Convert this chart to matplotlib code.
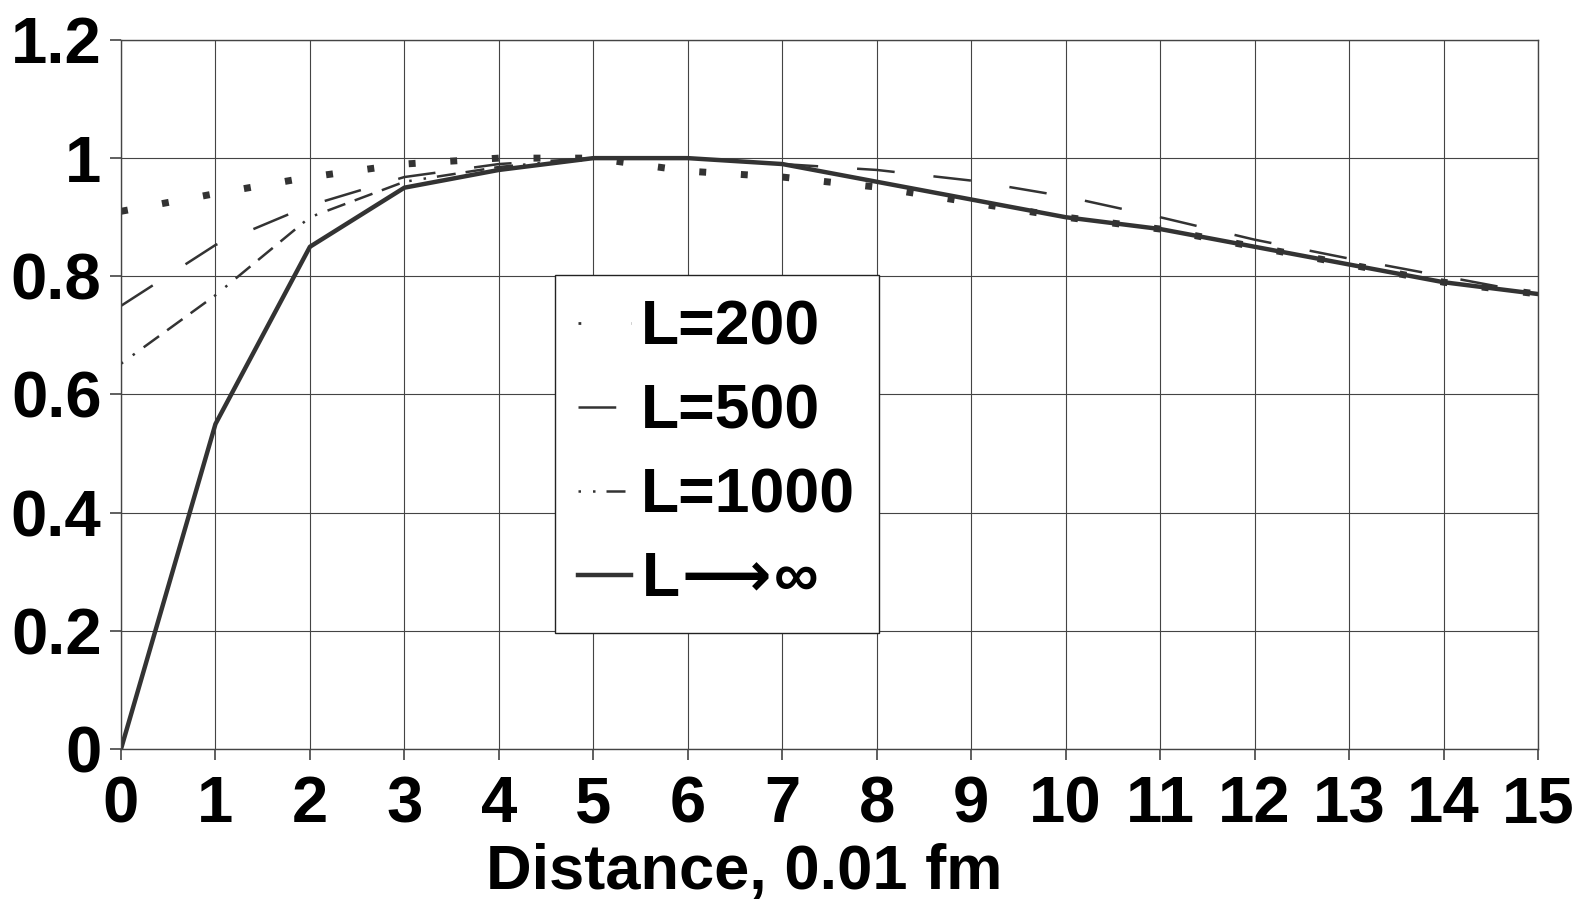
import numpy as np
import matplotlib
matplotlib.use('Agg')
import matplotlib.pyplot as plt

plt.rcParams['font.family'] = ['Liberation Sans', 'DejaVu Sans']
plt.rcParams['font.weight'] = 'bold'

# distance, 0.01 fm
dist = np.arange(16)
# values
l200 = [0.91, 0.94, 0.968, 0.99, 1.0, 1.0, 0.978, 0.968, 0.951, 0.925,
        0.90, 0.88, 0.85, 0.82, 0.79, 0.77]
l500 = [0.75, 0.853, 0.92, 0.968, 0.99, 1.0, 1.0, 0.99, 0.98, 0.962,
        0.935, 0.90, 0.862, 0.83, 0.80, 0.77]
l1000 = [0.652, 0.768, 0.90, 0.96, 0.985, 1.0, 1.0, 0.99, 0.96, 0.93,
         0.90, 0.88, 0.85, 0.82, 0.79, 0.77]
linf = [0.0, 0.55, 0.85, 0.95, 0.98, 1.0, 1.0, 0.99, 0.96, 0.93,
        0.90, 0.88, 0.85, 0.82, 0.79, 0.77]
labels = ['L=200', 'L=500', 'L=1000', 'L$\\!\\longrightarrow\\!$\u221e']
yticks = [0, 0.2, 0.4, 0.6, 0.8, 1.0, 1.2]
ytick_labels = ['0', '0.2', '0.4', '0.6', '0.8', '1', '1.2']

col = '#333333'
fig = plt.figure(figsize=(15.9, 9.0), dpi=100)
ax = fig.add_axes([0.0761, 0.1678, 0.8912, 0.7878])

ax.plot(dist, l200, color=col, lw=5.0, linestyle=(0, (1, 5)), label=labels[0])
ax.plot(dist, l500, color=col, lw=1.8, linestyle=(0, (15.1, 15.6)), label=labels[1])
ax.plot(dist, l1000, color=col, lw=1.8,
        linestyle=(0, (1, 4.8, 1, 4.4, 7.6, 4, 7.6, 4, 7.6, 4)), label=labels[2])
ax.plot(dist, linf, color=col, lw=3.2, label=labels[3])

ax.set_xlim(0, 15)
ax.set_ylim(0, 1.2)
ax.set_xticks(dist)
ax.set_yticks(yticks)
ax.set_yticklabels(ytick_labels)
ax.grid(True, color='#444444', lw=0.8)
ax.set_axisbelow(True)
ax.tick_params(labelsize=47, length=8, width=1.2, color='#444444', pad=6)
ax.tick_params(axis='x', pad=11)
for s in ax.spines.values():
    s.set_color('#444444')
    s.set_linewidth(1.0)

ax.set_xlabel('Distance, 0.01 fm', fontsize=45.5, fontweight='bold')
ax.xaxis.set_label_coords(0.44, -0.133)

leg = ax.legend(loc='upper left', bbox_to_anchor=(0.306, 0.669), borderaxespad=0,
                fontsize=45, fancybox=False, framealpha=1, edgecolor='#222222',
                handlelength=0.85, handletextpad=0.15, labelspacing=0.4,
                borderpad=0.38)
leg.get_frame().set_linewidth(1.0)
hl = leg.get_lines()[0]
hl.set_linewidth(2.0)
hl.set_linestyle((0, (1, 18)))

fig.savefig('out.png', dpi=100)
